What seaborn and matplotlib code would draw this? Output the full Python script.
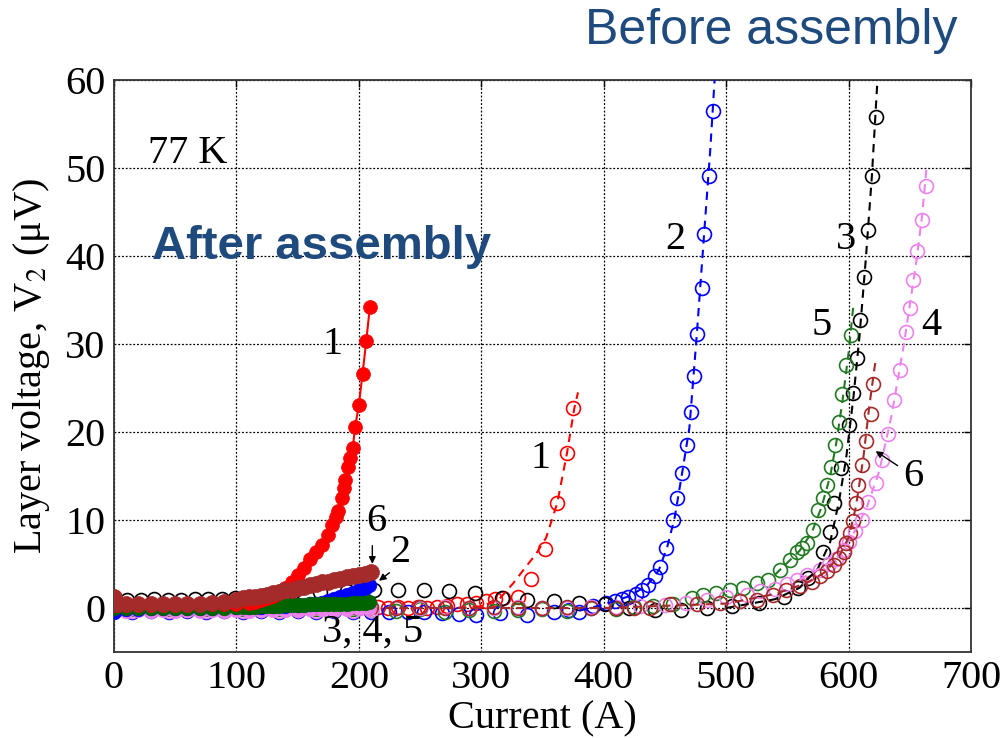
import matplotlib
matplotlib.use("Agg")
import matplotlib.pyplot as plt
import seaborn as sns

# ---------------- data (Current in A, layer voltage in uV) ----------------
# Before assembly (open circles, dashed fits)
b1_I = [0, 10, 20, 30, 40, 50, 60, 70, 80, 90,
        100, 110, 120, 130, 140, 150, 160, 170, 180, 190,
        200, 208, 216, 224, 232, 240, 248, 256, 264, 272,
        280, 288, 296, 304, 311, 318, 330, 341, 352, 362,
        370, 375]
b1_V = [0.0, 0.1, 0.0, 0.1, 0.0, 0.1, 0.0, 0.1, 0.0, 0.1,
        0.0, 0.1, 0.0, 0.1, 0.0, 0.1, 0.0, 0.1, 0.0, 0.1,
        0.0, 0.0, 0.1, 0.0, 0.1, 0.0, 0.1, 0.0, 0.1, 0.2,
        0.4, 0.5, 0.6, 0.8, 1.0, 1.1, 1.3, 3.3, 6.7, 11.9,
        17.6, 22.7]
b1_fit_I = [150, 280, 300, 314, 326, 336, 345, 353, 362, 370, 376, 379]
b1_fit_V = [0.0, 0.0, 0.2, 0.9, 2.8, 4.6, 6.2, 8.0, 11.9, 17.6, 22.7, 24.5]

b2_I = [0, 15, 30, 45, 60, 75, 90, 105, 120, 135,
        150, 165, 180, 195, 210, 225, 240, 253, 268, 282,
        296, 315, 337, 359, 372, 380, 391, 402, 409, 415,
        420, 426, 431, 436, 442, 446, 451, 457, 460, 464,
        468, 471, 474, 476, 480, 482, 486, 489]
b2_V = [-0.3, -0.4, -0.3, -0.4, -0.3, -0.4, -0.3, -0.4, -0.3, -0.4,
        -0.3, -0.4, -0.3, -0.4, -0.4, -0.5, -0.4, -0.4, -0.6, -0.7,
        -0.8, -0.6, -0.8, -0.4, -0.2, -0.4, 0.2, 0.6, 0.8, 1.0,
        1.3, 1.6, 2.1, 2.6, 3.6, 4.7, 6.8, 10.0, 12.5, 15.3,
        18.5, 22.3, 26.4, 31.1, 36.4, 42.5, 49.1, 56.5]
b2_fit_I = [380, 400, 420, 435, 445, 452, 458, 464, 470, 476, 482, 487, 491]
b2_fit_V = [-0.3, 0.4, 1.3, 2.5, 4.3, 7.0, 10.3, 15.3, 20.5, 31.0, 42.5, 52.0, 61.0]

b3_I = [0, 11, 22, 33, 44, 55, 66, 77, 88, 99,
        110, 125, 146, 168, 190, 212, 232, 253, 274, 295,
        317, 337, 359, 380, 401, 421, 442, 463, 484, 505,
        527, 547, 559, 567, 579, 585, 588, 594, 600, 604,
        607, 609, 613, 616, 619, 622]
b3_V = [0.8, 0.9, 0.9, 1.0, 0.9, 0.9, 1.0, 1.0, 1.0, 1.1,
        1.0, 1.5, 1.8, 1.8, 1.9, 2.1, 2.1, 2.0, 1.9, 1.7,
        1.1, 0.9, 0.8, 0.6, 0.4, 0.0, -0.2, -0.2, 0.0, 0.2,
        0.6, 1.3, 2.3, 3.4, 6.4, 8.6, 11.9, 15.9, 20.8, 24.4,
        28.4, 32.7, 37.6, 43.0, 49.1, 55.8]
b3_fit_I = [500, 540, 560, 575, 585, 592, 598, 604, 609, 614, 619, 624]
b3_fit_V = [0.0, 1.0, 2.3, 4.5, 7.5, 12.0, 17.0, 24.0, 31.0, 39.5, 49.0, 61.0]

b4_I = [0, 15, 30, 45, 60, 75, 90, 105, 120, 135,
        150, 165, 180, 195, 210, 230, 250, 270, 290, 310,
        330, 350, 370, 390, 410, 430, 450, 467, 484, 500,
        517, 528, 540, 550, 558, 566, 577, 584, 590, 596,
        600, 605, 611, 616, 622, 627, 632, 637, 642, 647,
        650, 653, 656, 660, 663]
b4_V = [-0.3, -0.3, -0.2, -0.3, -0.2, -0.3, -0.2, -0.3, -0.2, -0.3,
        -0.2, -0.3, -0.2, -0.3, -0.2, 0.0, 0.0, 0.1, 0.0, 0.0,
        0.1, 0.0, 0.0, 0.1, 0.1, 0.2, 0.3, 0.6, 0.9, 1.2,
        1.5, 1.9, 2.2, 2.7, 3.2, 3.8, 4.3, 5.0, 5.6, 6.6,
        7.5, 8.7, 10.0, 12.1, 14.2, 16.8, 19.8, 23.6, 27.1, 31.4,
        34.1, 37.3, 40.6, 44.1, 47.9]
b4_fit_I = [560, 590, 605, 615, 625, 635, 645, 655, 660, 664]
b4_fit_V = [3.2, 5.6, 8.7, 11.5, 15.5, 21.8, 29.8, 39.0, 44.5, 50.5]

b5_I = [0, 15, 30, 45, 60, 75, 90, 105, 120, 135,
        150, 165, 180, 195, 210, 230, 250, 270, 290, 310,
        330, 350, 370, 390, 410, 425, 440, 457, 472, 481,
        492, 503, 514, 525, 534, 544, 552, 558, 562, 566,
        571, 575, 579, 582, 586, 589, 592, 595, 598, 602]
b5_V = [-0.2, -0.1, -0.2, -0.1, -0.2, -0.1, -0.2, -0.1, -0.2, -0.1,
        -0.2, -0.1, -0.2, -0.1, -0.2, -0.3, -0.1, -0.4, -0.2, -0.3,
        -0.2, -0.1, -0.3, 0.0, -0.1, 0.1, 0.2, 0.4, 1.1, 1.5,
        1.7, 2.1, 2.3, 2.85, 3.2, 4.3, 5.4, 6.4, 6.8, 7.4,
        8.9, 11.1, 12.5, 14.0, 16.0, 18.5, 21.1, 24.3, 27.6, 31.0]
b5_fit_I = [540, 560, 570, 578, 585, 590, 595, 600, 604]
b5_fit_V = [3.8, 6.5, 8.6, 11.5, 15.0, 18.8, 23.5, 29.0, 34.5]

b6_I = [0, 15, 30, 45, 60, 75, 90, 105, 120, 135,
        150, 165, 180, 195, 210, 230, 250, 270, 290, 310,
        330, 350, 370, 390, 410, 425, 438, 454, 476, 495,
        511, 525, 538, 549, 560, 570, 577, 582, 588, 592,
        596, 598, 601, 604, 606, 608, 611, 614, 618, 620]
b6_V = [0.2, 0.1, 0.2, 0.1, 0.2, 0.1, 0.2, 0.1, 0.2, 0.1,
        0.2, 0.1, 0.2, 0.1, 0.1, 0.0, 0.1, 0.0, 0.0, 0.1,
        0.0, 0.0, 0.1, 0.0, 0.0, 0.0, 0.0, 0.4, 0.4, 0.6,
        0.8, 0.9, 1.5, 2.1, 2.5, 3.0, 3.6, 4.2, 4.9, 5.7,
        6.4, 7.4, 8.5, 9.9, 11.9, 14.0, 16.2, 19.0, 22.1, 25.4]
b6_fit_I = [150, 400, 500, 540, 565, 580, 592, 600, 606, 612, 617, 622]
b6_fit_V = [0.0, 0.0, 0.5, 1.6, 2.8, 4.0, 5.8, 8.0, 11.5, 17.0, 23.0, 28.1]

# After assembly (filled circles, solid lines)
a1_I = [0, 10, 20, 30, 40, 50, 60, 70, 80, 90,
        100, 110, 115, 120, 125, 130, 135, 140, 145, 150,
        155, 160, 165, 170, 175, 178, 181, 183, 186, 188,
        189, 191, 193, 195, 197, 200, 203, 206, 209]
a1_V = [0.3, 0.3, 0.3, 0.3, 0.3, 0.3, 0.3, 0.4, 0.4, 0.5,
        0.5, 0.6, 0.7, 0.9, 1.1, 1.4, 1.8, 2.3, 3.0, 3.7,
        4.6, 5.6, 6.4, 7.2, 8.3, 9.4, 10.3, 11.0, 12.5, 13.6,
        14.5, 16.0, 17.0, 18.2, 20.6, 23.1, 26.6, 30.3, 34.2]

a2_I = [0, 10, 20, 30, 40, 50, 60, 70, 80, 90,
        100, 110, 120, 130, 140, 150, 160, 165, 170, 175,
        180, 185, 190, 195, 200, 205, 208]
a2_V = [-0.4, -0.1, -0.1, 0.0, 0.0, 0.0, 0.0, 0.0, 0.0, 0.1,
        0.1, 0.1, 0.1, 0.2, 0.2, 0.3, 0.4, 0.5, 0.6, 0.8,
        1.0, 1.2, 1.5, 1.7, 2.0, 2.3, 2.6]

a5_I = [0, 10, 20, 30, 40, 50, 60, 70, 80, 90,
        100, 105, 110, 115, 120, 125, 130, 135, 140, 145,
        150, 155, 160, 165, 170, 175, 180, 185, 190, 195,
        200, 205, 208]
a5_V = [0.0, 0.0, 0.0, 0.0, 0.0, 0.0, 0.0, 0.0, 0.0, 0.0,
        0.1, 0.1, 0.1, 0.1, 0.2, 0.2, 0.2, 0.2, 0.3, 0.3,
        0.3, 0.3, 0.4, 0.4, 0.4, 0.4, 0.5, 0.5, 0.5, 0.6,
        0.6, 0.6, 0.7]

a4_I = [0, 10, 20, 30, 40, 50, 60, 70, 80, 90,
        100, 110, 120, 130, 140, 150, 160, 170, 180, 190,
        200, 208]
a4_V = [-0.3, -0.3, -0.2, -0.3, -0.2, -0.3, -0.2, -0.3, -0.2, -0.3,
        -0.2, -0.3, -0.2, -0.2, -0.2, -0.2, -0.1, -0.1, -0.1, -0.1,
        0.0, 0.0]

a6_I = [0, 3, 10, 20, 30, 40, 50, 60, 70, 80, 90,
        100, 105, 110, 115, 120, 125, 130, 135, 140, 145,
        150, 155, 160, 165, 170, 175, 180, 185, 190, 195,
        200, 205, 210]
a6_V = [1.2, 0.4, 0.5, 0.4, 0.4, 0.4, 0.4, 0.5, 0.5, 0.6, 0.7,
        0.9, 1.1, 1.2, 1.3, 1.4, 1.5, 1.7, 1.8, 2.0, 2.1,
        2.3, 2.4, 2.6, 2.7, 2.9, 3.0, 3.2, 3.3, 3.5, 3.6,
        3.8, 3.9, 4.1]

x_ticks = [0, 100, 200, 300, 400, 500, 600, 700]
y_ticks = [0, 10, 20, 30, 40, 50, 60]

# ---------------- style ----------------
sns.set_style("white")
plt.rcParams['font.family'] = ['Liberation Serif', 'DejaVu Serif']
plt.rcParams['mathtext.fontset'] = 'stix'
for k in ['text.color', 'axes.labelcolor', 'xtick.color', 'ytick.color']:
    plt.rcParams[k] = 'black'

fig = plt.figure(figsize=(10.03, 7.38), dpi=100)
ax = fig.add_axes([114 / 1003, 86 / 738, 857 / 1003, 572 / 738])

RED, BLUE, BLACK = '#ff0000', '#0000ff', '#000000'
GREEN_O, GREEN_F = '#217a21', '#006400'
VIOLET, BROWN = '#ee82ee', '#a52a2a'
TXT_BLUE = '#1f4a7e'


def before(I, V, fI, fV, color, z):
    sns.lineplot(x=fI, y=fV, ax=ax, color=color, linestyle=(0, (4, 3)),
                 linewidth=1.5, estimator=None, sort=False, zorder=z + 0.5)
    sns.lineplot(x=I, y=V, ax=ax, color=color, linestyle='none', marker='o',
                 markersize=10, markerfacecolor='none', markeredgecolor=color,
                 markeredgewidth=1.2, estimator=None, sort=False, zorder=z)


def after(I, V, color, z, ms=10.5):
    sns.lineplot(x=I, y=V, ax=ax, color=color, linestyle='-', linewidth=1.5,
                 marker='o', markersize=ms, markerfacecolor=color,
                 markeredgecolor=color, markeredgewidth=0.5,
                 estimator=None, sort=False, zorder=z)


before(b1_I, b1_V, b1_fit_I, b1_fit_V, RED, 3)
before(b2_I, b2_V, b2_fit_I, b2_fit_V, BLUE, 3)
before(b3_I, b3_V, b3_fit_I, b3_fit_V, BLACK, 3)
before(b5_I, b5_V, b5_fit_I, b5_fit_V, GREEN_O, 3)
before(b4_I, b4_V, b4_fit_I, b4_fit_V, VIOLET, 3)
before(b6_I, b6_V, b6_fit_I, b6_fit_V, BROWN, 3)

after(a4_I, a4_V, VIOLET, 5)
after(a2_I, a2_V, BLUE, 5)
after(a5_I, a5_V, GREEN_F, 5)
after(a1_I, a1_V, RED, 6, ms=10)
after(a6_I, a6_V, BROWN, 7, ms=11.5)

ax.set_xlim(0, 700)
ax.set_ylim(-5, 60)
ax.set_xticks(x_ticks)
ax.set_yticks(y_ticks)
ax.set_axisbelow(True)
ax.grid(True, color='black', linestyle=(0, (1.5, 1.5)), linewidth=0.9)
ax.tick_params(direction='in', length=5, width=1, top=True, right=True,
               labelsize=29, pad=6, colors='black')
for s in ax.spines.values():
    s.set_color('#333333')
    s.set_linewidth(1.3)

ax.set_xlabel('Current (A)', fontsize=29, labelpad=2)
ax.set_ylabel('Layer voltage, V$_2$ (μV)', fontsize=29, labelpad=10)

# curve labels
lab = dict(fontsize=29, ha='center', va='center', zorder=10)
ax.text(178.3, 30.0, '1', **lab)
ax.text(233.6, 6.3, '2', **lab)
ax.text(211, -2.7, '3, 4, 5', **lab)
ax.text(348, 17.0, '1', **lab)
ax.text(458.2, 41.9, '2', **lab)
ax.text(598, 41.9, '3', **lab)
ax.text(578, 32.1, '5', **lab)
ax.text(667.9, 32.1, '4', **lab)
ax.text(214.5, 9.8, '6', **lab)
ax.text(653, 14.9, '6', **lab)

arrow = dict(arrowstyle='-|>', color='black', lw=1, mutation_scale=10)
ax.annotate('', xy=(211, 4.7), xytext=(211, 7.4), arrowprops=arrow, zorder=10)
ax.annotate('', xy=(214.6, 2.9), xytext=(226.8, 4.2), arrowprops=arrow, zorder=10)
ax.annotate('', xy=(620.2, 18.0), xytext=(642, 16.0), arrowprops=arrow, zorder=10)

ax.text(27.8, 50.6, '77 K', fontsize=29, va='baseline')
ax.text(31, 39.7, 'After assembly', fontsize=34, fontweight='bold',
        family='Liberation Sans', color=TXT_BLUE, va='baseline', zorder=10)
fig.text(585 / 1003, 1 - 44 / 738, 'Before assembly', fontsize=36,
         family='Liberation Sans', color=TXT_BLUE, va='baseline')

fig.savefig('out.png', dpi=100)
